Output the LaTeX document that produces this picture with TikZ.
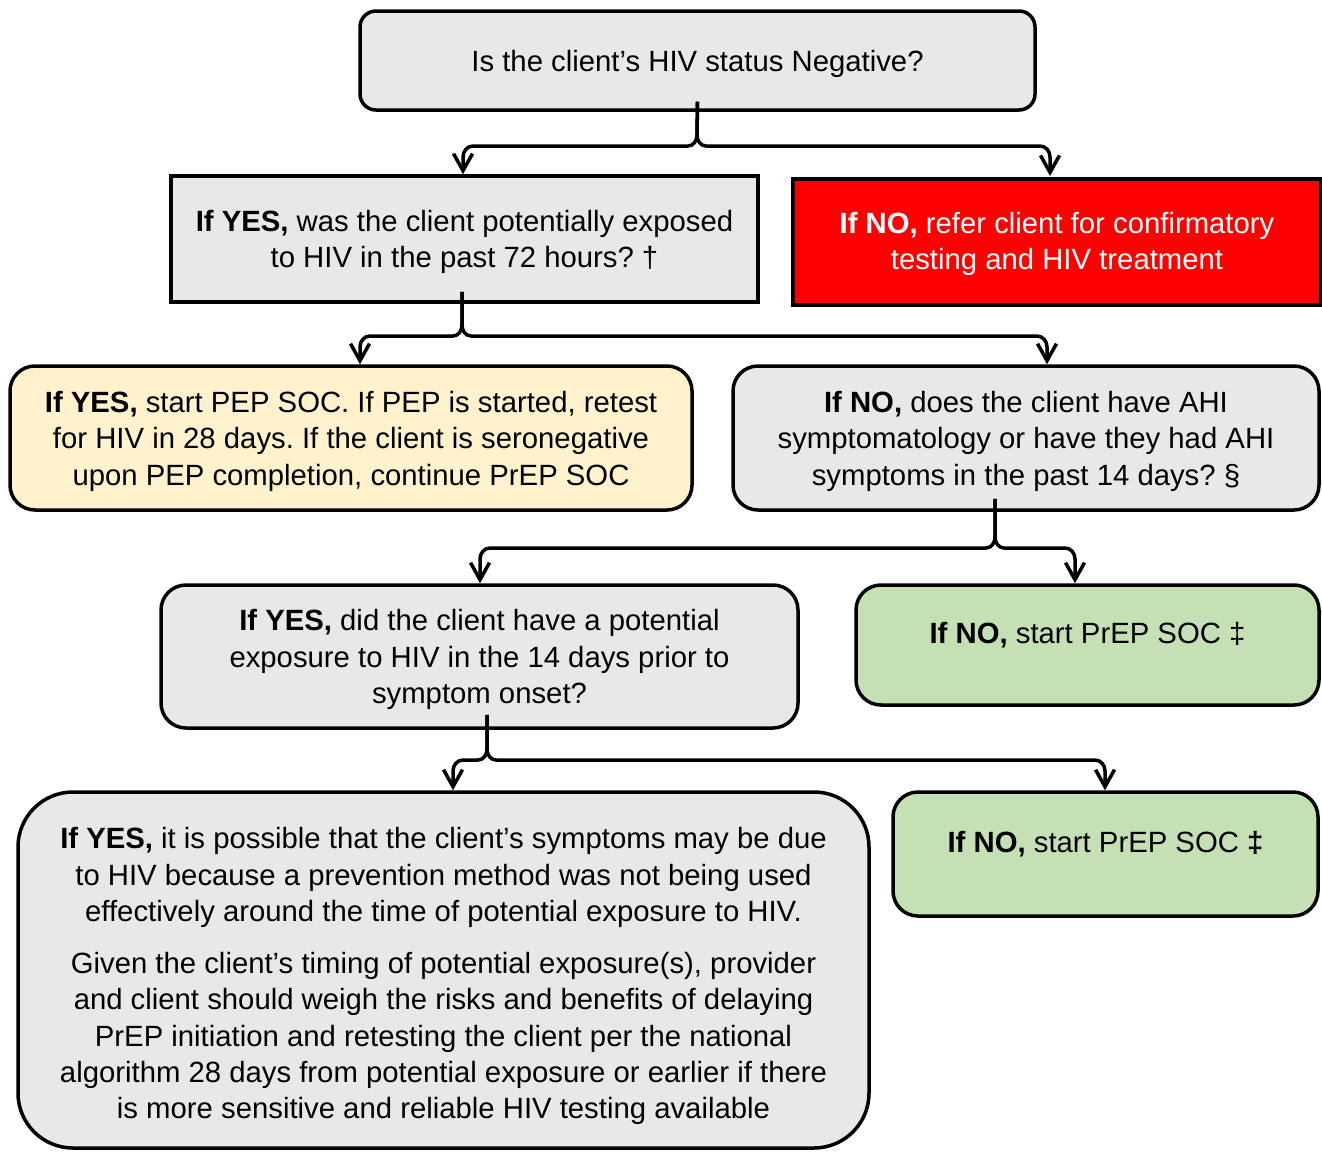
\documentclass[tikz,border=0pt]{standalone}
\usepackage{fontspec}
\setmainfont{Liberation Sans}
\usetikzlibrary{arrows.meta,calc}
\definecolor{boxgray}{HTML}{E8E8E8}
\definecolor{boxyellow}{HTML}{FFF2CC}
\definecolor{boxgreen}{HTML}{C5E0B4}
\definecolor{boxred}{HTML}{FF0000}
\frenchspacing
\tikzset{
  basebox/.style={draw=black, line width=3.5pt, align=center, inner sep=0pt,
    font=\fontsize{29.3}{36.3}\selectfont\frenchspacing},
  graybox/.style={basebox, fill=boxgray},
  conn/.style={line width=3.5pt, line join=round,
    -{Straight Barb[length=17pt,width=19pt,line width=3.5pt]}},
}
\newcommand\tx[2]{\raisebox{#1}[\height][\depth]{\begin{tabular}{@{}c@{}}#2\end{tabular}}}
\newcommand\forkconn[4]{%
  \draw[conn] (#1) -- ($(#2)+(0pt,11pt)$) to[out=-90,in=0] ($(#2)+(-9pt,0pt)$)
    -- ($(#2 -| #3)+(10pt,0pt)$) to[out=180,in=90] ($(#2 -| #3)+(0pt,-11pt)$) -- (#3);
  \draw[conn] (#1) -- ($(#2)+(0pt,11pt)$) to[out=-90,in=180] ($(#2)+(9pt,0pt)$)
    -- ($(#2 -| #4)+(-10pt,0pt)$) to[out=0,in=90] ($(#2 -| #4)+(0pt,-11pt)$) -- (#4);
}
\begin{document}
\begin{tikzpicture}[x=1pt,y=-1pt]
\useasboundingbox (0,0) rectangle (1322,1151);

\node[graybox, rounded corners=16pt, minimum width=675pt, minimum height=99pt] (q1) at (697.5,60.5)
  {\tx{-3.5pt}{Is the client’s HIV status Negative?}};

\node[graybox, minimum width=587pt, minimum height=126pt] (yes1) at (464.5,239)
  {\tx{-3.5pt}{\textbf{If YES,} was the client potentially exposed\\ to HIV in the past 72 hours? †}};

\node[basebox, fill=boxred, text=white, line width=4pt, minimum width=528pt, minimum height=126pt] (no1) at (1057,242)
  {\tx{-2.5pt}{\textbf{If NO,} refer client for confirmatory\\ testing and HIV treatment}};

\node[basebox, fill=boxyellow, rounded corners=25pt, minimum width=682pt, minimum height=144pt] (pep) at (351,438)
  {\tx{-3.5pt}{\textbf{If YES,} start PEP SOC. If PEP is started, retest\\ for HIV in 28 days. If the client is seronegative\\ upon PEP completion, continue PrEP SOC}};

\node[graybox, rounded corners=25pt, minimum width=586pt, minimum height=144pt] (ahi) at (1026,438)
  {\tx{-3.5pt}{\textbf{If NO,} does the client have AHI\\ symptomatology or have they had AHI\\ symptoms in the past 14 days? §}};

\node[graybox, rounded corners=25pt, minimum width=637pt, minimum height=143pt] (exp) at (479.5,656.5)
  {\tx{-3.5pt}{\textbf{If YES,} did the client have a potential\\ exposure to HIV in the 14 days prior to\\ symptom onset?}};

\node[basebox, fill=boxgreen, rounded corners=25pt, minimum width=463pt, minimum height=120pt] (prep1) at (1087.5,645)
  {\tx{9pt}{\textbf{If NO,} start PrEP SOC ‡}};

\node[graybox, rounded corners=55pt, minimum width=851pt, minimum height=356pt] (big) at (443.5,970)
  {\tx{-6.5pt}{\textbf{If YES,} it is possible that the client’s symptoms may be due\\
   to HIV because a prevention method was not being used\\
   effectively around the time of potential exposure to HIV.\\[16pt]
   Given the client’s timing of potential exposure(s), provider\\
   and client should weigh the risks and benefits of delaying\\
   PrEP initiation and retesting the client per the national\\
   algorithm 28 days from potential exposure or earlier if there\\
   is more sensitive and reliable HIV testing available}};

\node[basebox, fill=boxgreen, rounded corners=25pt, minimum width=425pt, minimum height=124pt] (prep2) at (1105.5,854)
  {\tx{9pt}{\textbf{If NO,} start PrEP SOC \textbf{‡}}};

% junctions and arrow targets
\coordinate (j1) at (697,146);
\coordinate (s1) at ([yshift=10pt]q1.south);
\coordinate (t1a) at ([xshift=-1.5pt]yes1.north);
\coordinate (t1b) at ([xshift=-7pt,yshift=1pt]no1.north);
\forkconn{s1}{j1}{t1a}{t1b}

\coordinate (j2) at (462,336);
\coordinate (s2) at ([xshift=-2.5pt,yshift=12pt]yes1.south);
\coordinate (t2a) at ([xshift=9pt]pep.north);
\coordinate (t2b) at ([xshift=21pt]ahi.north);
\forkconn{s2}{j2}{t2a}{t2b}

\coordinate (j3) at (995,548);
\coordinate (s3) at ([xshift=-31pt,yshift=13pt]ahi.south);
\coordinate (t3a) at ([xshift=0.5pt]exp.north);
\coordinate (t3b) at ([xshift=-12.5pt]prep1.north);
\forkconn{s3}{j3}{t3a}{t3b}

\coordinate (j4) at (487,760);
\coordinate (s4) at ([xshift=7.5pt,yshift=15pt]exp.south);
\coordinate (t4a) at ([xshift=9.5pt]big.north);
\coordinate (t4b) at ([xshift=-0.5pt]prep2.north);
\forkconn{s4}{j4}{t4a}{t4b}
\end{tikzpicture}
\end{document}
